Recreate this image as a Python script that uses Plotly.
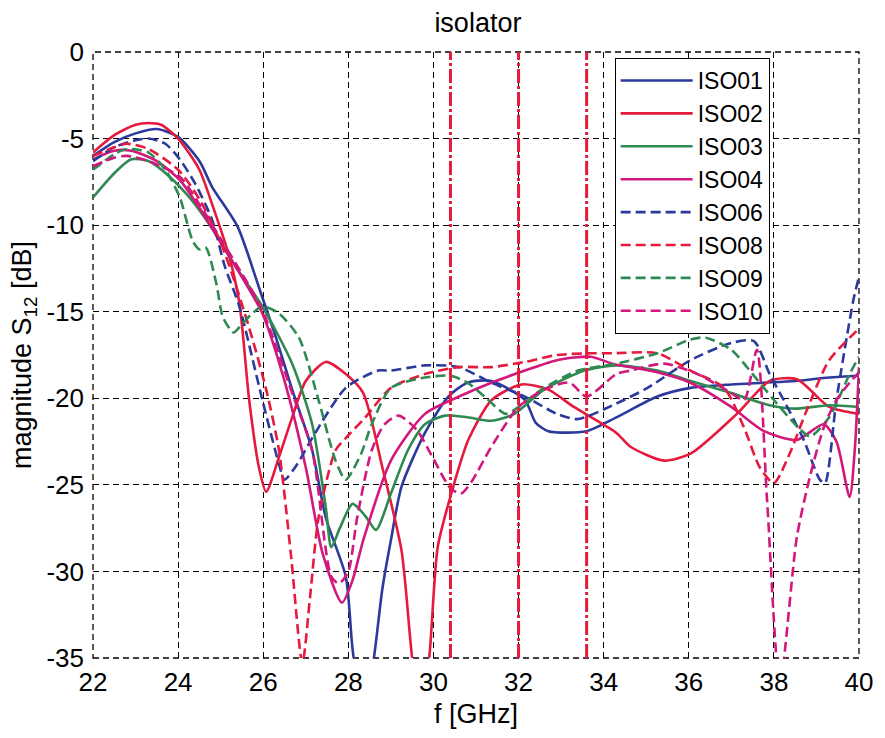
import plotly.graph_objects as go

# ---------------- data ----------------
names = ["ISO01", "ISO02", "ISO03", "ISO04", "ISO06", "ISO08", "ISO09", "ISO10"]

iso01_f = [22, 22.5, 23, 23.5, 24, 24.5, 24.8, 25.4, 25.9, 26.3, 26.68, 27.15, 27.47, 27.94, 28.1, 28.35, 28.6, 28.8, 29.0, 29.25, 29.8, 30.35, 30.8, 31.36, 32.15, 32.4, 32.7, 33.6, 34.3, 35.26, 36.04, 37.0, 37.77, 38.5, 39.3, 40]
iso01_v = [-6.0, -5.2, -4.7, -4.45, -4.9, -6.3, -7.8, -10.1, -13.6, -16.5, -19.5, -23.0, -26.9, -30.3, -34.5, -38.5, -35.0, -31.0, -28.2, -25.1, -22.0, -19.9, -19.1, -19.0, -20.1, -21.4, -21.9, -21.9, -21.1, -19.9, -19.4, -19.2, -19.1, -19.0, -18.8, -18.7]

iso02_f = [22, 22.5, 23, 23.3, 23.6, 24, 24.5, 24.8, 25.2, 25.44, 25.67, 25.9, 26.07, 26.37, 26.68, 27.0, 27.47, 27.94, 28.35, 28.8, 29.25, 29.5, 29.7, 29.9, 30.1, 30.42, 30.82, 31.37, 32.07, 32.7, 33.3, 34.3, 34.63, 35.42, 36.04, 37.13, 37.9, 38.54, 39.3, 40]
iso02_v = [-5.8, -4.8, -4.2, -4.1, -4.2, -5.0, -6.8, -8.8, -11.8, -14.5, -20.1, -24.0, -25.4, -23.4, -21.1, -19.0, -17.9, -18.6, -19.7, -24.0, -28.8, -35.0, -38.0, -35.0, -28.6, -25.5, -22.4, -20.1, -19.2, -19.5, -20.5, -22.0, -22.8, -23.6, -23.2, -20.9, -19.0, -18.9, -20.5, -20.9]

iso03_f = [22, 22.5, 22.9, 23.3, 23.8, 24.3, 24.8, 25.3, 25.98, 26.68, 27.15, 27.47, 27.6, 27.8, 28.1, 28.4, 28.65, 29.0, 29.4, 29.8, 30.27, 30.8, 31.36, 31.9, 32.6, 33.55, 34.3, 35.26, 36.04, 37.0, 37.9, 38.5, 39.3, 40]
iso03_v = [-8.4, -7.0, -6.2, -6.3, -7.2, -8.5, -10.2, -12.2, -14.7, -18.0, -21.5, -26.3, -28.6, -27.5, -26.1, -26.8, -27.6, -25.5, -23.0, -21.5, -21.0, -21.1, -21.3, -20.9, -19.5, -18.4, -18.1, -18.4, -19.0, -19.7, -20.4, -20.6, -20.4, -20.5]

iso04_f = [22, 22.5, 22.9, 23.5, 24.04, 24.5, 25.0, 25.5, 25.98, 26.5, 27.0, 27.4, 27.85, 28.1, 28.35, 29.0, 29.8, 30.6, 31.36, 32.15, 32.9, 33.7, 34.2, 35.26, 36.04, 37.0, 37.77, 38.54, 39.17, 39.47, 39.78, 39.9, 40]
iso04_v = [-6.2, -5.7, -5.7, -6.3, -7.4, -9.0, -11.0, -13.0, -15.1, -19.0, -24.0, -29.0, -31.8, -30.5, -28.2, -23.6, -20.9, -19.9, -19.1, -18.4, -17.8, -17.6, -18.0, -18.5, -19.1, -20.5, -21.9, -22.4, -21.5, -22.5, -25.7, -23.0, -18.2]

iso06_f = [22, 22.5, 23, 23.3, 23.7, 24.04, 24.4, 24.8, 25.1, 25.44, 25.98, 26.37, 26.5, 26.8, 27.15, 27.94, 28.7, 29.0, 29.8, 30.6, 31.36, 32.15, 32.9, 33.4, 34.3, 35.03, 36.04, 37.0, 37.53, 37.9, 38.23, 38.7, 39.08, 39.2, 39.47, 39.87, 40]
iso06_v = [-6.3, -5.5, -5.1, -5.0, -5.3, -6.2, -7.6, -9.7, -12.4, -14.7, -20.1, -23.8, -24.7, -23.8, -22.3, -19.4, -18.4, -18.4, -18.1, -18.2, -19.1, -19.9, -20.9, -21.2, -20.3, -19.4, -17.8, -16.8, -16.7, -18.6, -20.1, -22.4, -24.7, -24.9, -20.1, -14.3, -13.0]

iso08_f = [22, 22.5, 22.8, 23.3, 24.0, 24.5, 25.0, 25.4, 25.75, 26.07, 26.37, 26.65, 26.92, 27.1, 27.3, 27.7, 27.94, 28.4, 29.0, 29.8, 30.6, 31.36, 32.15, 32.9, 33.7, 34.2, 35.26, 36.04, 36.83, 37.3, 37.67, 38.0, 38.37, 38.77, 39.3, 39.95, 40]
iso08_v = [-6.0, -5.5, -5.3, -5.6, -6.8, -8.5, -11.0, -13.8, -16.6, -19.5, -23.0, -29.0, -35.3, -31.5, -26.9, -23.0, -22.3, -21.1, -19.4, -18.6, -18.2, -18.2, -17.9, -17.5, -17.4, -17.4, -17.4, -18.4, -19.4, -21.7, -24.0, -24.9, -23.2, -20.7, -17.8, -16.1, -16.0]

iso09_f = [22, 22.5, 22.8, 23.3, 23.7, 24.04, 24.34, 24.5, 24.65, 24.9, 25.05, 25.3, 25.44, 25.7, 25.98, 26.37, 26.84, 27.3, 27.7, 27.94, 28.3, 28.55, 29.0, 29.8, 30.4, 30.8, 31.2, 31.7, 32.0, 32.6, 33.4, 34.3, 35.26, 36.04, 36.4, 37.0, 37.5, 38.0, 38.54, 38.85, 39.3, 39.78, 40]
iso09_v = [-6.8, -5.9, -5.6, -5.8, -6.8, -8.4, -10.9, -11.4, -11.3, -13.4, -15.3, -16.2, -15.9, -15.2, -14.7, -15.1, -16.5, -20.1, -23.6, -24.7, -23.2, -21.5, -19.4, -18.8, -18.7, -19.1, -19.9, -20.9, -20.5, -19.4, -18.4, -18.0, -17.4, -16.6, -16.5, -17.2, -18.6, -20.1, -21.6, -22.2, -21.1, -18.6, -17.6]

iso10_f = [22, 22.5, 22.8, 23.3, 24.04, 24.5, 25.0, 25.5, 25.98, 26.68, 27.15, 27.6, 27.78, 28.0, 28.2, 28.55, 28.85, 29.18, 29.6, 30.0, 30.4, 30.65, 30.9, 31.36, 32.0, 32.6, 33.2, 33.6, 34.3, 34.63, 35.42, 36.2, 37.0, 37.3, 37.6, 37.84, 38.14, 38.54, 38.85, 39.17, 39.47, 39.78, 40]
iso10_v = [-6.6, -6.1, -6.0, -6.3, -7.2, -8.8, -10.8, -12.8, -14.9, -19.7, -23.0, -30.3, -30.7, -30.0, -27.0, -23.0, -21.5, -21.0, -21.8, -23.5, -25.2, -25.5, -24.8, -22.8, -20.5, -19.5, -19.1, -19.9, -18.6, -18.4, -18.0, -18.6, -19.7, -20.1, -17.2, -25.9, -36.5, -28.0, -24.5, -21.7, -20.1, -19.1, -18.5]

marker_freqs = [30.4, 32.0, 33.6]

x_ticks = [22, 24, 26, 28, 30, 32, 34, 36, 38, 40]
y_ticks = [0, -5, -10, -15, -20, -25, -30, -35]

series_f = [iso01_f, iso02_f, iso03_f, iso04_f, iso06_f, iso08_f, iso09_f, iso10_f]
series_v = [iso01_v, iso02_v, iso03_v, iso04_v, iso06_v, iso08_v, iso09_v, iso10_v]

# ---------------- style ----------------
BLUE = "#2b3a9c"
RED = "#e51a3d"
GREEN = "#2f8a52"
MAGENTA = "#d2187c"
colors = [BLUE, RED, GREEN, MAGENTA, BLUE, RED, GREEN, MAGENTA]
dashes = ["solid"] * 4 + ["10px,5px"] * 4
FONT = "Liberation Sans, Arial, sans-serif"

fig = go.Figure()
for name, fx, vy, c, d in zip(names, series_f, series_v, colors, dashes):
    fig.add_trace(go.Scatter(
        x=fx, y=vy, name=name, mode="lines",
        line=dict(color=c, width=2.6, dash=d, shape="spline", smoothing=0.7),
    ))

for mf in marker_freqs:
    fig.add_vline(x=mf, line=dict(color=RED, width=3, dash="14px,3px,3px,3px"), layer="above")

fig.update_layout(
    width=885, height=738,
    margin=dict(l=93, r=23, t=52, b=80),
    paper_bgcolor="white", plot_bgcolor="white",
    font=dict(family=FONT, size=26, color="black"),
    title=dict(text="isolator", x=0.54, xanchor="center", y=0.97, yanchor="middle",
               font=dict(size=27, family=FONT)),
    legend=dict(x=0.681, y=0.99, xanchor="left", yanchor="top",
                bgcolor="white", bordercolor="black", borderwidth=1,
                font=dict(size=23, family=FONT), tracegroupgap=0,
                itemwidth=72),
    showlegend=True,
)
fig.update_xaxes(
    range=[22, 40], tickvals=x_ticks, ticktext=[str(t) for t in x_ticks],
    showgrid=True, gridcolor="black", gridwidth=1.3, griddash="6px,4px",
    showline=False, zeroline=False, ticks="", ticklabelstandoff=6,
    title=dict(text="f [GHz]", font=dict(size=27, family=FONT), standoff=8),
)
fig.update_yaxes(
    range=[-35, 0], tickvals=y_ticks, ticktext=[str(t) for t in y_ticks],
    showgrid=True, gridcolor="black", gridwidth=1.3, griddash="6px,4px",
    showline=False, zeroline=False, ticks="", ticklabelstandoff=8,
    title=dict(text="magnitude S<sub>12</sub> [dB]", font=dict(size=27, family=FONT), standoff=6),
)
# dashed frame (like the grid)
fig.add_shape(type="rect", xref="paper", yref="paper", x0=0, y0=0, x1=1, y1=1,
              line=dict(color="black", width=1.3, dash="6px,4px"), layer="below")

fig.write_html("out.html")
